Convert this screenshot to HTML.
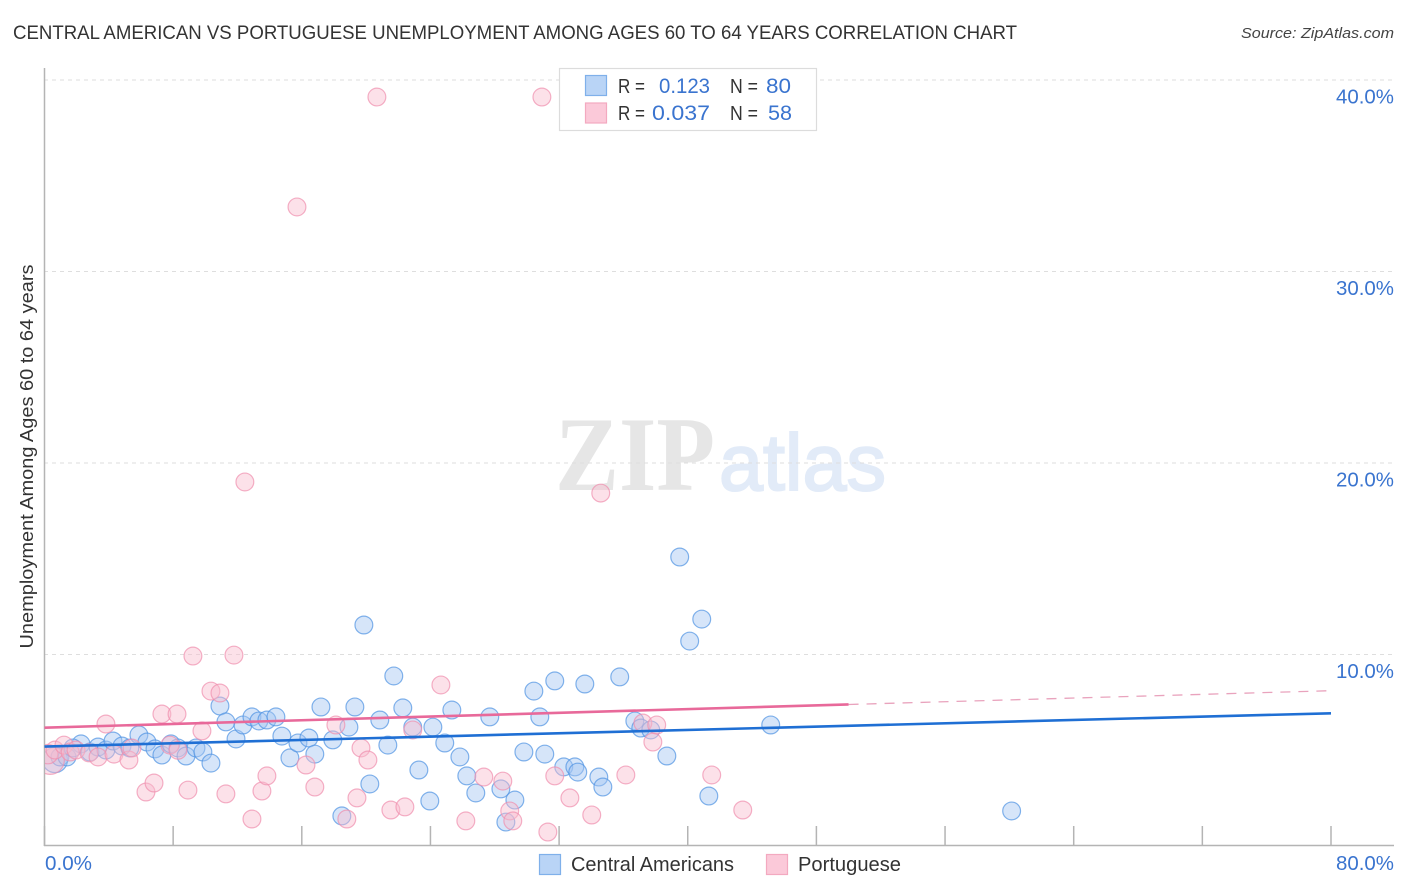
<!DOCTYPE html>
<html lang="en">
<head>
<meta charset="utf-8">
<title>Central American vs Portuguese Unemployment Correlation Chart</title>
<style>
html,body{margin:0;padding:0;background:#fff;}
svg{display:block;font-family:"Liberation Sans",sans-serif;}
</style>
</head>
<body>
<svg id="chart" width="1406" height="892" viewBox="0 0 1406 892" xmlns="http://www.w3.org/2000/svg">
  <defs>
    <clipPath id="plot-clip"><rect x="45" y="60" width="1349" height="786"/></clipPath>
  </defs>
  <rect width="1406" height="892" fill="#fff"/>
  <text x="13" y="39" font-size="19" fill="#333" textLength="1004" lengthAdjust="spacingAndGlyphs">CENTRAL AMERICAN VS PORTUGUESE UNEMPLOYMENT AMONG AGES 60 TO 64 YEARS CORRELATION CHART</text>
  <text x="1241" y="38" font-size="15" font-style="italic" fill="#444" textLength="153" lengthAdjust="spacingAndGlyphs">Source: ZipAtlas.com</text>

  <g>
    <text x="555" y="490" font-family="'Liberation Serif',serif" font-weight="bold" font-size="106" fill="#e6e6e6" textLength="160" lengthAdjust="spacingAndGlyphs">ZIP</text>
    <text x="719" y="490" font-size="80" fill="#e2ebf8" stroke="#e2ebf8" stroke-width="2" textLength="167" lengthAdjust="spacingAndGlyphs">atlas</text>
  </g>

  <g id="grid"></g>
  <g id="axes">
    <line x1="44.5" y1="68" x2="44.5" y2="846" stroke="#b4b4b4" stroke-width="1.5"/>
    <line x1="44" y1="845.5" x2="1394" y2="845.5" stroke="#b4b4b4" stroke-width="1.5"/>
  </g>
  <g id="xticks"></g>
  <g id="points-blue" clip-path="url(#plot-clip)"></g>
  <g id="points-pink" clip-path="url(#plot-clip)"></g>
  <g id="trends"></g>
  <g id="ylabels"></g>
  <g id="xlabels"></g>

  <text transform="translate(33,456.5) rotate(-90)" font-size="18" fill="#333" text-anchor="middle" textLength="384" lengthAdjust="spacingAndGlyphs">Unemployment Among Ages 60 to 64 years</text>

  <g>
    <rect x="559.5" y="68.5" width="257" height="62" fill="#fff" stroke="#dcdcdc" stroke-width="1.2"/>
    <rect x="585.5" y="75.5" width="21" height="20" fill="#b9d4f6" stroke="#7fb0ea" stroke-width="1.2"/>
    <rect x="585.5" y="103" width="21" height="20" fill="#fbc9d9" stroke="#f3a9c0" stroke-width="1.2"/>
    <text x="618" y="93" font-size="20" fill="#333" textLength="27" lengthAdjust="spacingAndGlyphs">R =</text>
    <text x="659" y="93" font-size="21" fill="#3a74cf" textLength="51" lengthAdjust="spacingAndGlyphs">0.123</text>
    <text x="730" y="93" font-size="20" fill="#333" textLength="28" lengthAdjust="spacingAndGlyphs">N =</text>
    <text x="766" y="93" font-size="21" fill="#3a74cf" textLength="25" lengthAdjust="spacingAndGlyphs">80</text>
    <text x="618" y="120" font-size="20" fill="#333" textLength="27" lengthAdjust="spacingAndGlyphs">R =</text>
    <text x="652" y="120" font-size="21" fill="#3a74cf" textLength="58" lengthAdjust="spacingAndGlyphs">0.037</text>
    <text x="730" y="120" font-size="20" fill="#333" textLength="28" lengthAdjust="spacingAndGlyphs">N =</text>
    <text x="768" y="120" font-size="21" fill="#3a74cf" textLength="24" lengthAdjust="spacingAndGlyphs">58</text>
  </g>

  <g>
    <rect x="539.5" y="854.5" width="21" height="20" fill="#b9d4f6" stroke="#7fb0ea" stroke-width="1.2"/>
    <text x="571" y="871" font-size="20" fill="#333" textLength="163" lengthAdjust="spacingAndGlyphs">Central Americans</text>
    <rect x="766.5" y="854.5" width="21" height="20" fill="#fbc9d9" stroke="#f3a9c0" stroke-width="1.2"/>
    <text x="798" y="871" font-size="20" fill="#333" textLength="103" lengthAdjust="spacingAndGlyphs">Portuguese</text>
  </g>
</svg>
<script>
const yTickValues = [10, 20, 30, 40];
const yTickLabels = ["10.0%", "20.0%", "30.0%", "40.0%"];
const xTickValues = [0, 8, 16, 24, 32, 40, 48, 56, 64, 72, 80];
const xEndValues = [0, 80];
const xEndLabels = ["0.0%", "80.0%"];

const blueX = [0.65,0.96,1.40,2.27,1.77,2.83,3.33,3.82,4.26,4.82,5.31,5.87,6.37,6.87,7.30,7.86,8.30,8.80,9.42,9.85,10.35,10.91,11.28,11.91,12.34,12.90,13.33,13.83,14.39,14.76,15.26,15.76,16.44,16.81,17.19,17.93,18.93,19.30,19.86,20.23,18.49,20.85,21.35,21.72,22.28,22.90,23.28,23.96,24.15,24.89,25.33,25.83,26.26,26.82,27.69,28.38,28.69,29.25,29.81,30.43,30.80,31.11,31.73,32.29,32.98,33.16,33.60,34.47,34.72,35.77,36.71,37.08,37.70,38.70,39.50,40.12,40.87,41.31,45.16,60.14];
const blueY = [4.49,4.65,4.65,5.33,5.12,4.91,5.17,5.01,5.48,5.22,5.12,5.80,5.43,5.07,4.75,5.33,5.12,4.70,5.12,4.91,4.33,7.31,6.48,5.59,6.32,6.74,6.53,6.58,6.74,5.74,4.60,5.38,5.64,4.80,7.26,5.54,6.21,7.26,11.54,3.24,1.57,6.58,5.27,8.88,7.21,6.21,3.97,2.35,6.21,5.38,7.10,4.65,3.66,2.77,6.74,2.98,1.25,2.40,4.91,8.09,6.74,4.80,8.62,4.13,4.13,3.86,8.46,3.60,3.08,8.83,6.53,6.16,6.06,4.70,15.09,10.70,11.85,2.61,6.32,1.83];
const blueWeight = [2.0,1,1,1,1,1,1,1,1,1];

const pinkX = [0.34,0.22,0.65,1.21,1.59,1.96,2.77,3.33,3.82,4.32,5.25,5.44,6.31,6.81,7.30,7.80,8.24,8.30,8.92,9.23,9.79,10.35,10.91,11.28,11.78,12.46,12.90,13.52,13.83,15.70,16.26,16.81,18.12,18.80,19.43,19.68,20.11,20.67,21.54,22.41,22.90,24.65,26.20,27.32,28.50,28.93,29.12,30.93,31.30,31.73,32.67,34.03,34.59,36.15,37.21,37.83,38.07,41.49,43.42];
const pinkY = [4.49,4.80,5.01,5.27,4.91,5.01,4.86,4.65,6.37,4.80,4.49,5.12,2.82,3.29,6.89,5.27,6.89,5.00,2.92,9.92,6.01,8.09,7.99,2.72,9.97,19.01,1.41,2.87,3.66,33.37,4.23,3.08,6.32,1.41,2.51,5.12,4.49,39.11,1.88,2.04,6.06,8.41,1.31,3.60,3.39,1.83,1.31,39.11,0.73,3.66,2.51,1.62,18.43,3.71,6.42,5.43,6.32,3.71,1.88];
const pinkWeight = [2.6,1.2,1,1,1,1];

const blueTrendX = [0, 80];
const blueTrendY = [5.19, 6.93];
const pinkTrendX = [0, 50];
const pinkTrendY = [6.18, 7.39];
const pinkDashX = [50, 80];
const pinkDashY = [7.39, 8.11];

const NS = "http://www.w3.org/2000/svg";
function xScale(v){ return 44.5 + v * (1331 - 44.5) / 80; }
function yScale(v){ return 846 - v * 19.15; }
function radius(w){ return 8.9 * Math.sqrt(w || 1); }

const gridGroup = document.getElementById("grid");
yTickValues.forEach(function(v){
  const l = document.createElementNS(NS, "line");
  
  
  l.setAttribute("x1", 44);
  l.setAttribute("x2", 1394);
  l.setAttribute("y1", yScale(v));
  l.setAttribute("y2", yScale(v));
  l.setAttribute("stroke", "#dedede");
  l.setAttribute("stroke-width", "1");
  l.setAttribute("stroke-dasharray", "4 4");
  gridGroup.appendChild(l);
});

const tickGroup = document.getElementById("xticks");
xTickValues.forEach(function(v){
  const l = document.createElementNS(NS, "line");
  
  
  l.setAttribute("x1", xScale(v));
  l.setAttribute("x2", xScale(v));
  l.setAttribute("y1", 826);
  l.setAttribute("y2", 846);
  l.setAttribute("stroke", "#b4b4b4");
  l.setAttribute("stroke-width", "1.5");
  tickGroup.appendChild(l);
});

const yLabelGroup = document.getElementById("ylabels");
yTickValues.forEach(function(v, i){
  const t = document.createElementNS(NS, "text");
  
  
  t.setAttribute("x", 1336);
  t.setAttribute("y", yScale(v) + 23.5);
  t.setAttribute("font-size", "20");
  t.setAttribute("fill", "#3a74cf");
  t.setAttribute("textLength", "58");
  t.setAttribute("lengthAdjust", "spacingAndGlyphs");
  t.textContent = yTickLabels[i];
  yLabelGroup.appendChild(t);
});

const xLabelGroup = document.getElementById("xlabels");
xEndValues.forEach(function(v, i){
  const t = document.createElementNS(NS, "text");
  
  
  t.setAttribute("x", i === 0 ? xScale(v) + 0.5 : 1336);
  t.setAttribute("y", 870);
  t.setAttribute("font-size", "20");
  t.setAttribute("fill", "#3a74cf");
  t.setAttribute("textLength", i === 0 ? "47" : "58");
  t.setAttribute("lengthAdjust", "spacingAndGlyphs");
  t.textContent = xEndLabels[i];
  xLabelGroup.appendChild(t);
});

function drawPoints(groupId, xs, ys, weights, fill, stroke, pointName){
  const g = document.getElementById(groupId);
  xs.forEach(function(v, i){
    const c = document.createElementNS(NS, "circle");
    
    
    c.setAttribute("cx", xScale(v));
    c.setAttribute("cy", yScale(ys[i]));
    c.setAttribute("r", radius(weights[i]));
    c.setAttribute("fill", fill);
    c.setAttribute("fill-opacity", "0.45");
    c.setAttribute("stroke", stroke);
    c.setAttribute("stroke-opacity", "0.7");
    c.setAttribute("stroke-width", "1.2");
    g.appendChild(c);
  });
}
drawPoints("points-blue", blueX, blueY, blueWeight, "#a3c6f2", "#4f93e3", "central-americans-point");
drawPoints("points-pink", pinkX, pinkY, pinkWeight, "#f9bccf", "#ef8fae", "portuguese-point");

function drawTrend(xs, ys, color, width, dash, lineName){
  const l = document.createElementNS(NS, "line");
  
  
  l.setAttribute("x1", xScale(xs[0]));
  l.setAttribute("y1", yScale(ys[0]));
  l.setAttribute("x2", xScale(xs[1]));
  l.setAttribute("y2", yScale(ys[1]));
  l.setAttribute("stroke", color);
  l.setAttribute("stroke-width", width);
  if (dash) { l.setAttribute("stroke-dasharray", dash); }
  document.getElementById("trends").appendChild(l);
}
drawTrend(pinkDashX, pinkDashY, "#e9a3bd", 1.3, "10 8", "portuguese-trend-projection");
drawTrend(pinkTrendX, pinkTrendY, "#e8699a", 2.6, null, "portuguese-trend-line");
drawTrend(blueTrendX, blueTrendY, "#1f6fd4", 2.6, null, "central-americans-trend-line");
</script>
</body>
</html>
